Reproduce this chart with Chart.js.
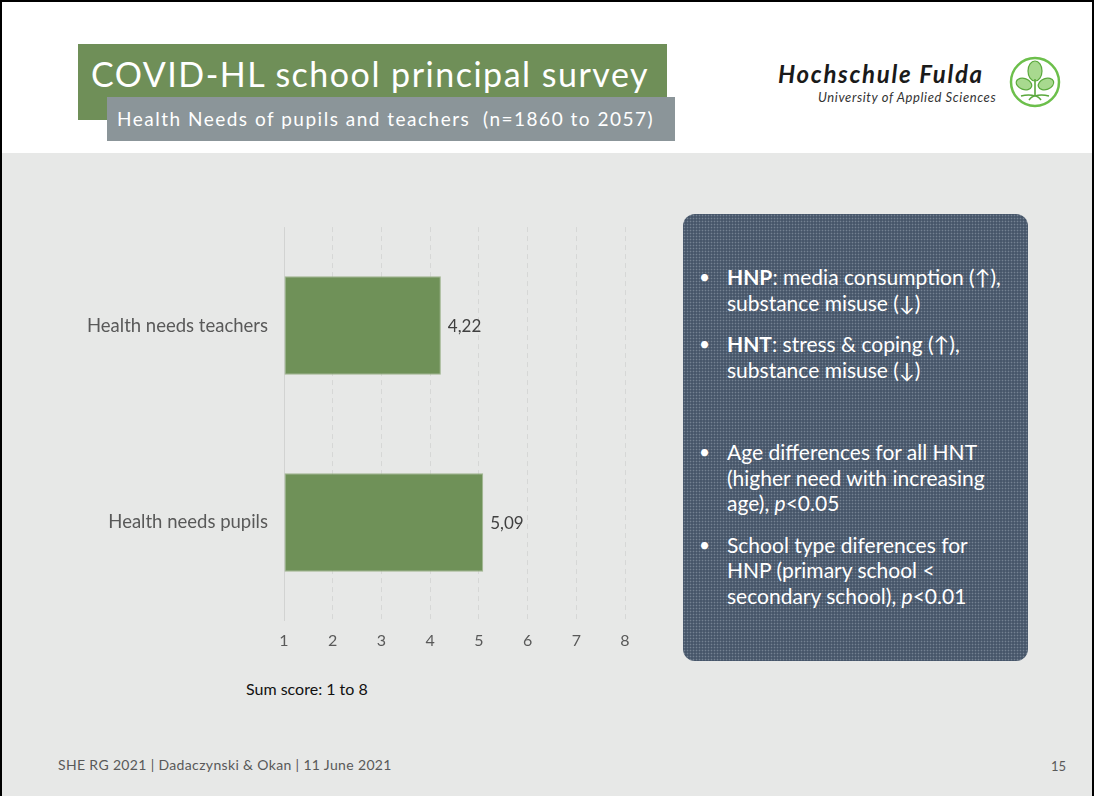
<!DOCTYPE html>
<html>
<head>
<meta charset="utf-8">
<script src="https://cdn.jsdelivr.net/npm/chart.js@4.4.1/dist/chart.umd.min.js"></script>
<style>
  html, body { margin: 0; padding: 0; }
  body { width: 1094px; height: 796px; overflow: hidden; font-family: Lato, "Open Sans", sans-serif; }
  #slide { position: absolute; left: 0; top: 0; width: 1090px; height: 796px; border: 2px solid #000; border-bottom: none; background: #fff; overflow: hidden; }
  #content { position: absolute; left: 0; top: 151px; width: 100%; height: 660px; background: #e7e8e7; }
  #title { position: absolute; left: 76px; top: 42px; width: 589px; height: 76px; background: #6f8f58; }
  #title span { position: absolute; left: 13px; top: 9px; color: #fff; font-size: 34px; letter-spacing: 1.5px; white-space: nowrap; }
  #subtitle { position: absolute; left: 105px; top: 95px; width: 568px; height: 44px; background: #8b9599; color: #fff; font-size: 19px; line-height: 44px; white-space: nowrap; }
  #subtitle span { margin-left: 10px; letter-spacing: 1.5px; }
  #logo1 { position: absolute; left: 776px; top: 57px; font-size: 24px; font-weight: bold; font-style: italic; color: #1a1a1a; white-space: nowrap; letter-spacing: 1.7px; }
  #logo2 { position: absolute; left: 816px; top: 87px; font-size: 13px; font-style: italic; color: #333; white-space: nowrap; letter-spacing: 0.6px; }
  #emblem { position: absolute; left: 1005px; top: 52px; }
  #chartWrap { position: absolute; left: 58px; top: 198px; width: 600px; height: 464px; }
  #note { position: absolute; left: 244px; top: 677px; font-size: 16px; color: #111; }
  #box { position: absolute; left: 681px; top: 212px; width: 345px; height: 447px; border-radius: 12px;
         background-color: #47566a;
         background-image: radial-gradient(circle, rgba(200,210,220,0.35) 0.7px, transparent 1.1px);
         background-size: 3px 3px; color: #fff; font-size: 21px; line-height: 25.5px; }
  #box ul { list-style: none; margin: 0; padding: 0; position: absolute; left: 16px; top: 50px; width: 310px; }
  #box li { position: relative; padding-left: 28px; margin-bottom: 16px; }
  #box li::before { content: "\2022"; position: absolute; left: 0; top: 0; font-size: 19px; }
  #box li.gap { height: 25px; margin-bottom: 16px; }
  #box li.gap::before { content: ""; }
  #footer { position: absolute; left: 56px; top: 754px; font-size: 14px; color: #595959; white-space: nowrap; letter-spacing: 0.35px; }
  #page { position: absolute; left: 1049px; top: 756px; font-size: 13px; color: #595959; }
</style>
</head>
<body>
<div id="slide">
  <div id="content"></div>
  <div id="title"><span>COVID-HL school principal survey</span></div>
  <div id="subtitle"><span>Health Needs of pupils and teachers&nbsp; (n=1860 to 2057)</span></div>
  <div id="logo1">Hochschule Fulda</div>
  <div id="logo2">University of Applied Sciences</div>
  <svg id="emblem" width="56" height="56" viewBox="0 0 56 56">
    <circle cx="28" cy="28" r="24" fill="#fff" stroke="#6cbf4b" stroke-width="2.5"/>
    <ellipse cx="28" cy="17" rx="7" ry="10" fill="#a8d98f" stroke="#5aa83c" stroke-width="1.2"/>
    <ellipse cx="17" cy="30" rx="8" ry="5.5" transform="rotate(20 17 30)" fill="#a8d98f" stroke="#5aa83c" stroke-width="1.2"/>
    <ellipse cx="39" cy="30" rx="8" ry="5.5" transform="rotate(-20 39 30)" fill="#a8d98f" stroke="#5aa83c" stroke-width="1.2"/>
    <path d="M28 25 L28 42 M22 46 Q28 38 34 46 M14 42 Q22 40 28 42 M42 42 Q34 40 28 42" stroke="#5aa83c" stroke-width="1.6" fill="none"/>
  </svg>
  <div id="chartWrap"><canvas id="chart"></canvas></div>
  <div id="note">Sum score: 1 to 8</div>
  <div id="box">
    <ul>
      <li><b>HNP</b>: media consumption (↑), substance misuse (↓)</li>
      <li><b>HNT</b>: stress &amp; coping (↑), substance misuse (↓)</li>
      <li class="gap"></li>
      <li>Age differences for all HNT (higher need with increasing age), <i>p</i>&lt;0.05</li>
      <li>School type diferences for HNP (primary school &lt; secondary school), <i>p</i>&lt;0.01</li>
    </ul>
  </div>
  <div id="footer">SHE RG 2021 | Dadaczynski &amp; Okan | 11 June 2021</div>
  <div id="page">15</div>
</div>

<script>
// 数据
const categories = ['Health needs teachers', 'Health needs pupils'];
const sumScores = [4.22, 5.09];
const axisTicks = [1, 2, 3, 4, 5, 6, 7, 8];

const barColor = '#6f9158';
const fontFamily = 'Lato, "Open Sans", sans-serif';

// 柱末端数值标签
const valueLabels = {
  id: 'valueLabels',
  afterDatasetsDraw(chart) {
    const ctx = chart.ctx;
    const meta = chart.getDatasetMeta(0);
    ctx.save();
    ctx.font = '17px ' + fontFamily;
    ctx.fillStyle = '#404040';
    ctx.textAlign = 'left';
    ctx.textBaseline = 'middle';
    meta.data.forEach((bar, i) => {
      const txt = sumScores[i].toFixed(2).replace('.', ',');
      ctx.fillText(txt, bar.x + 7, bar.y + 1);
    });
    ctx.restore();
  }
};

window.onload = function() {
  const ctx = document.getElementById('chart').getContext('2d');
  new Chart(ctx, {
    type: 'bar',
    data: {
      labels: categories,
      datasets: [{
        data: sumScores,
        base: 1,
        backgroundColor: barColor,
        borderColor: '#9fb58f',
        borderWidth: 1,
        borderSkipped: false,
        categoryPercentage: 1,
        barPercentage: 0.5
      }]
    },
    options: {
      indexAxis: 'y',
      responsive: true,
      maintainAspectRatio: false,
      animation: false,
      layout: { padding: { top: 10, right: 35, bottom: 0, left: 0 } },
      plugins: { legend: { display: false }, tooltip: { enabled: false } },
      scales: {
        x: {
          min: 1,
          max: 8,
          afterBuildTicks: scale => { scale.ticks = axisTicks.map(v => ({ value: v })); },
          afterFit: scale => { scale.height = 43; },
          grid: {
            drawTicks: false,
            color: c => c.index === 0 ? '#d2d3d2' : '#d6d7d6',
            lineWidth: 1
          },
          border: {
            display: false,
            dash: c => c.index === 0 ? [] : [5, 4]
          },
          ticks: {
            padding: 10,
            color: '#595959',
            font: { family: fontFamily, size: 16 }
          }
        },
        y: {
          afterFit: scale => { scale.width = 224; },
          grid: { display: false, drawTicks: false },
          border: { display: false },
          ticks: {
            padding: 16,
            color: '#595959',
            font: { family: fontFamily, size: 18.5 }
          }
        }
      }
    },
    plugins: [valueLabels]
  });
};
</script>
</body>
</html>
